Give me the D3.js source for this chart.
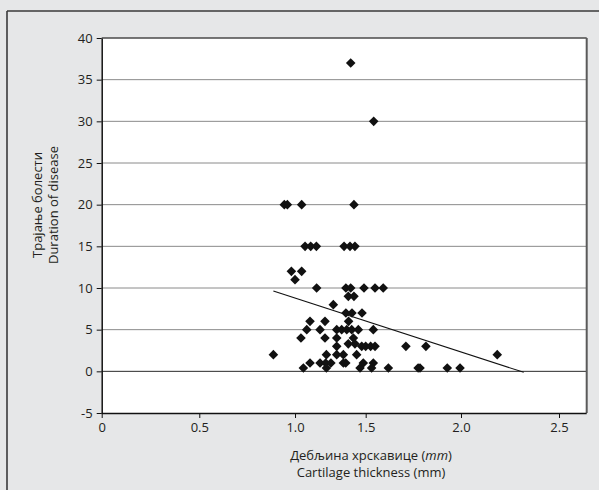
<!DOCTYPE html>
<html>
<head>
<meta charset="utf-8">
<script src="https://cdn.jsdelivr.net/npm/d3@7"></script>
<style>
  html, body { margin: 0; padding: 0; background: #e6e7e8; }
  svg { display: block; }
  text { font-family: "Open Sans", "Noto Sans", sans-serif; fill: #231f20; }
</style>
</head>
<body>
<svg id="chart" width="599" height="490"></svg>
<script>
// ---- data ----
const thickness = [
  1.394, 1.542,
  0.944, 0.960, 1.047, 1.417,
  1.071, 1.111, 1.151, 1.347, 1.389, 1.424,
  0.981, 1.047, 1.000,
  1.153, 1.360, 1.394, 1.488, 1.549, 1.592,
  1.377, 1.417,
  1.271,
  1.360, 1.403, 1.474,
  1.106, 1.212, 1.379,
  1.083, 1.177, 1.295, 1.330, 1.366, 1.401, 1.448, 1.540,
  1.042, 1.212, 1.295, 1.413,
  1.295, 1.377, 1.424, 1.472, 1.500, 1.526, 1.549, 1.711, 1.816,
  0.887, 1.222, 1.295, 1.342, 1.436, 2.185,
  1.106, 1.177, 1.217, 1.254, 1.342, 1.359, 1.483, 1.540,
  1.059, 1.222, 1.460, 1.531, 1.619, 1.775, 1.785, 1.928, 1.995
];
const duration = [
  37, 30,
  20, 20, 20, 20,
  15, 15, 15, 15, 15, 15,
  12, 12, 11,
  10, 10, 10, 10, 10, 10,
  9, 9,
  8,
  7, 7, 7,
  6, 6, 6,
  5, 5, 5, 5, 5, 5, 5, 5,
  4, 4, 4, 4,
  3, 3.3, 3.3, 3, 3, 3, 3, 3, 3,
  2, 2, 2, 2, 2, 2,
  1, 1, 1, 1, 1, 1, 1, 1,
  0.4, 0.4, 0.4, 0.4, 0.4, 0.4, 0.4, 0.4, 0.4
];
const trendX = [0.887, 2.32];
const trendY = [9.64, -0.12];
const xTicks = [0, 0.5, 1.0, 1.5, 2.0, 2.5];
const xTickLabels = ["0", "0.5", "1.0", "1.5", "2.0", "2.5"];
const yTicks = [-5, 0, 5, 10, 15, 20, 25, 30, 35, 40];
const yTickLabels = ["-5", "0", "5", "10", "15", "20", "25", "30", "35", "40"];
const xTitle = ["Дебљина хрскавице (", "mm", ")"];
const xTitle2 = "Cartilage thickness (mm)";
const yTitle = ["Трајање болести", "Duration of disease"];

// ---- layout ----
const svg = d3.select("#chart");
const pLeft = 101.7, pRight = 586.7, pTop = 38, pBottom = 413;
const W = pRight - pLeft;

// outer frame (only left/top edges visible in the crop)
svg.append("rect").attr("x", 0).attr("y", 0).attr("width", 599).attr("height", 490).attr("fill", "#e6e7e8");
svg.append("line").attr("x1", 7).attr("x2", 7).attr("y1", 11).attr("y2", 490)
  .attr("stroke", "#3a3a3a").attr("stroke-width", 1.6);
svg.append("line").attr("x1", 7).attr("x2", 599).attr("y1", 11).attr("y2", 11)
  .attr("stroke", "#3a3a3a").attr("stroke-width", 1.6);

// scales (x axis of the original has uneven tick spacing -> piecewise linear)
const x = d3.scaleLinear()
  .domain([0, 0.5, 1.0, 1.5, 2.0, 2.5, 2.641])
  .range([pLeft, pLeft + W * 0.2012, pLeft + W * 0.3986, pLeft + W * 0.5443,
          pLeft + W * 0.7408, pLeft + W * 0.9429, pRight]);
const y = d3.scaleLinear().domain([-5, 40]).range([pBottom, pTop]);

// plot background
svg.append("rect").attr("x", pLeft).attr("y", pTop).attr("width", W).attr("height", pBottom - pTop)
  .attr("fill", "#ffffff");

// gridlines
svg.append("g").selectAll("line").data(yTicks.filter(d => d > -5 && d < 40)).join("line")
  .attr("x1", pLeft).attr("x2", pRight)
  .attr("y1", d => y(d)).attr("y2", d => y(d))
  .attr("stroke", d => d === 0 ? "#2a2a2a" : "#8a8a8a")
  .attr("stroke-width", 1);

// plot border top/right
svg.append("line").attr("x1", pLeft).attr("x2", pRight).attr("y1", pTop).attr("y2", pTop)
  .attr("stroke", "#4a4a4a").attr("stroke-width", 1.5);
svg.append("line").attr("x1", pRight).attr("x2", pRight).attr("y1", pTop).attr("y2", pBottom)
  .attr("stroke", "#5a5a5a").attr("stroke-width", 2);

// axes
const yAxis = svg.append("g").attr("transform", `translate(${pLeft},0)`)
  .call(d3.axisLeft(y).tickValues(yTicks).tickFormat((d, i) => yTickLabels[i])
    .tickSize(5).tickSizeOuter(0).tickPadding(4));
const xAxis = svg.append("g").attr("transform", `translate(0,${pBottom})`)
  .call(d3.axisBottom(x).tickValues(xTicks).tickFormat((d, i) => xTickLabels[i])
    .tickSize(5).tickSizeOuter(0).tickPadding(5));
[yAxis, xAxis].forEach(g => {
  g.selectAll("path.domain").attr("stroke", "#111").attr("stroke-width", 1.5);
  g.selectAll(".tick line").attr("stroke", "#111").attr("stroke-width", 1);
  g.selectAll("text").style("font-family", "'Open Sans', sans-serif")
    .style("font-size", "13px").attr("fill", "#231f20");
});
xAxis.select("path.domain").attr("d", `M${pLeft},0.5H${pRight}`);

// trend line
svg.append("line")
  .attr("x1", x(trendX[0])).attr("y1", y(trendY[0]))
  .attr("x2", x(trendX[1])).attr("y2", y(trendY[1]))
  .attr("stroke", "#111").attr("stroke-width", 1.1);

// points (diamonds)
const diamond = d3.symbol().type(d3.symbolSquare).size(46);
svg.append("g").selectAll("path").data(thickness.map((t, i) => [t, duration[i]])).join("path")
  .attr("d", diamond)
  .attr("transform", d => `translate(${x(d[0])},${y(d[1])}) rotate(45)`)
  .attr("fill", "#111");

// axis titles
const xt = svg.append("text").attr("x", 371).attr("y", 460).attr("text-anchor", "middle")
  .style("font-size", "13px");
xt.append("tspan").text(xTitle[0]);
xt.append("tspan").style("font-style", "italic").text(xTitle[1]);
xt.append("tspan").text(xTitle[2]);
svg.append("text").attr("x", 371).attr("y", 477).attr("text-anchor", "middle")
  .style("font-size", "13px").text(xTitle2);

svg.append("text").attr("transform", "translate(42,205) rotate(-90)")
  .attr("text-anchor", "middle").style("font-size", "13px").text(yTitle[0]);
svg.append("text").attr("transform", "translate(58,205) rotate(-90)")
  .attr("text-anchor", "middle").style("font-size", "13px").text(yTitle[1]);
</script>
</body>
</html>
